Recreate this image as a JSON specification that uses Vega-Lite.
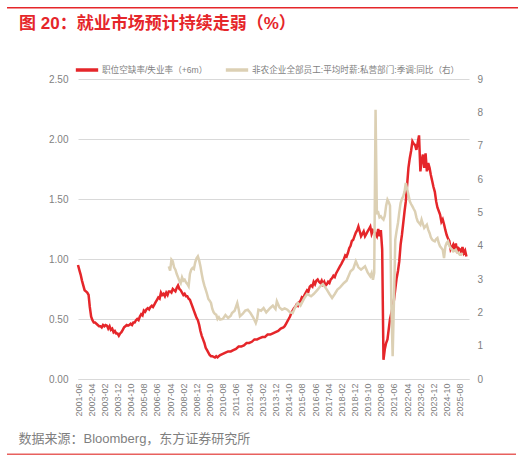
{
  "$schema": "https://vega.github.io/schema/vega-lite/v6.json",
  "padding": {"top": 0, "left": 6, "right": 5, "bottom": 2},
  "spacing": 6,
  "resolve": {"scale": {"color": "independent"}, "legend": {"color": "independent"}},
  "config": {
    "font": "Liberation Sans, Noto Sans CJK SC, sans-serif",
    "view": {"stroke": null},
    "axis": {"labelColor": "#7f7f7f", "ticks": false, "domain": false, "gridColor": "#d9d9d9", "labelFontSize": 10}
  },
  "datasets": {
    "band": [{"a": 0, "b": 1}],
    "vu": [
      {"d": "2001-06", "r": 0.95}, {"d": "2001-07", "r": 0.91}, {"d": "2001-08", "r": 0.87}, {"d": "2001-09", "r": 0.82},
      {"d": "2001-10", "r": 0.78}, {"d": "2001-11", "r": 0.74}, {"d": "2001-12", "r": 0.73}, {"d": "2002-01", "r": 0.72},
      {"d": "2002-02", "r": 0.70}, {"d": "2002-03", "r": 0.60}, {"d": "2002-04", "r": 0.52}, {"d": "2002-05", "r": 0.49},
      {"d": "2002-06", "r": 0.47}, {"d": "2002-07", "r": 0.47}, {"d": "2002-08", "r": 0.46}, {"d": "2002-09", "r": 0.45},
      {"d": "2002-10", "r": 0.44}, {"d": "2002-11", "r": 0.44}, {"d": "2002-12", "r": 0.43}, {"d": "2003-01", "r": 0.45},
      {"d": "2003-02", "r": 0.44}, {"d": "2003-03", "r": 0.45}, {"d": "2003-04", "r": 0.445}, {"d": "2003-05", "r": 0.42},
      {"d": "2003-06", "r": 0.44}, {"d": "2003-07", "r": 0.41}, {"d": "2003-08", "r": 0.42}, {"d": "2003-09", "r": 0.39},
      {"d": "2003-10", "r": 0.40}, {"d": "2003-11", "r": 0.38}, {"d": "2003-12", "r": 0.38}, {"d": "2004-01", "r": 0.36},
      {"d": "2004-02", "r": 0.38}, {"d": "2004-03", "r": 0.39}, {"d": "2004-04", "r": 0.41}, {"d": "2004-05", "r": 0.43},
      {"d": "2004-06", "r": 0.44}, {"d": "2004-07", "r": 0.45}, {"d": "2004-08", "r": 0.445}, {"d": "2004-09", "r": 0.45},
      {"d": "2004-10", "r": 0.46}, {"d": "2004-11", "r": 0.45}, {"d": "2004-12", "r": 0.47}, {"d": "2005-01", "r": 0.47},
      {"d": "2005-02", "r": 0.49}, {"d": "2005-03", "r": 0.50}, {"d": "2005-04", "r": 0.49}, {"d": "2005-05", "r": 0.52},
      {"d": "2005-06", "r": 0.54}, {"d": "2005-07", "r": 0.53}, {"d": "2005-08", "r": 0.57}, {"d": "2005-09", "r": 0.56},
      {"d": "2005-10", "r": 0.58}, {"d": "2005-11", "r": 0.59}, {"d": "2005-12", "r": 0.58}, {"d": "2006-01", "r": 0.60},
      {"d": "2006-02", "r": 0.61}, {"d": "2006-03", "r": 0.60}, {"d": "2006-04", "r": 0.62}, {"d": "2006-05", "r": 0.64},
      {"d": "2006-06", "r": 0.66}, {"d": "2006-07", "r": 0.68}, {"d": "2006-08", "r": 0.67}, {"d": "2006-09", "r": 0.72},
      {"d": "2006-10", "r": 0.70}, {"d": "2006-11", "r": 0.71}, {"d": "2006-12", "r": 0.69}, {"d": "2007-01", "r": 0.72},
      {"d": "2007-02", "r": 0.70}, {"d": "2007-03", "r": 0.73}, {"d": "2007-04", "r": 0.73}, {"d": "2007-05", "r": 0.72},
      {"d": "2007-06", "r": 0.75}, {"d": "2007-07", "r": 0.74}, {"d": "2007-08", "r": 0.73}, {"d": "2007-09", "r": 0.76},
      {"d": "2007-10", "r": 0.78}, {"d": "2007-11", "r": 0.75}, {"d": "2007-12", "r": 0.74}, {"d": "2008-01", "r": 0.72},
      {"d": "2008-02", "r": 0.70}, {"d": "2008-03", "r": 0.71}, {"d": "2008-04", "r": 0.69}, {"d": "2008-05", "r": 0.69},
      {"d": "2008-06", "r": 0.67}, {"d": "2008-07", "r": 0.66}, {"d": "2008-08", "r": 0.63}, {"d": "2008-09", "r": 0.60},
      {"d": "2008-10", "r": 0.57}, {"d": "2008-11", "r": 0.54}, {"d": "2008-12", "r": 0.51}, {"d": "2009-01", "r": 0.49},
      {"d": "2009-02", "r": 0.45}, {"d": "2009-03", "r": 0.40}, {"d": "2009-04", "r": 0.36}, {"d": "2009-05", "r": 0.33},
      {"d": "2009-06", "r": 0.30}, {"d": "2009-07", "r": 0.26}, {"d": "2009-08", "r": 0.24}, {"d": "2009-09", "r": 0.22},
      {"d": "2009-10", "r": 0.20}, {"d": "2009-11", "r": 0.19}, {"d": "2009-12", "r": 0.19}, {"d": "2010-01", "r": 0.185},
      {"d": "2010-02", "r": 0.18}, {"d": "2010-03", "r": 0.19}, {"d": "2010-04", "r": 0.18}, {"d": "2010-05", "r": 0.19},
      {"d": "2010-06", "r": 0.20}, {"d": "2010-08", "r": 0.21}, {"d": "2010-10", "r": 0.22}, {"d": "2010-12", "r": 0.23},
      {"d": "2011-02", "r": 0.23}, {"d": "2011-04", "r": 0.24}, {"d": "2011-06", "r": 0.25}, {"d": "2011-08", "r": 0.27},
      {"d": "2011-10", "r": 0.27}, {"d": "2011-12", "r": 0.28}, {"d": "2012-02", "r": 0.30}, {"d": "2012-04", "r": 0.30},
      {"d": "2012-06", "r": 0.31}, {"d": "2012-08", "r": 0.33}, {"d": "2012-10", "r": 0.33}, {"d": "2012-12", "r": 0.34},
      {"d": "2013-02", "r": 0.35}, {"d": "2013-04", "r": 0.35}, {"d": "2013-06", "r": 0.37}, {"d": "2013-08", "r": 0.37},
      {"d": "2013-10", "r": 0.38}, {"d": "2013-12", "r": 0.39}, {"d": "2014-02", "r": 0.40}, {"d": "2014-04", "r": 0.42},
      {"d": "2014-06", "r": 0.43}, {"d": "2014-07", "r": 0.44}, {"d": "2014-08", "r": 0.46}, {"d": "2014-09", "r": 0.48},
      {"d": "2014-10", "r": 0.50}, {"d": "2014-11", "r": 0.52}, {"d": "2014-12", "r": 0.55}, {"d": "2015-01", "r": 0.57},
      {"d": "2015-02", "r": 0.59}, {"d": "2015-03", "r": 0.60}, {"d": "2015-04", "r": 0.62}, {"d": "2015-05", "r": 0.61},
      {"d": "2015-06", "r": 0.64}, {"d": "2015-07", "r": 0.65}, {"d": "2015-08", "r": 0.68}, {"d": "2015-09", "r": 0.67},
      {"d": "2015-10", "r": 0.70}, {"d": "2015-11", "r": 0.72}, {"d": "2015-12", "r": 0.74}, {"d": "2016-01", "r": 0.73},
      {"d": "2016-02", "r": 0.77}, {"d": "2016-03", "r": 0.78}, {"d": "2016-04", "r": 0.77}, {"d": "2016-05", "r": 0.81},
      {"d": "2016-06", "r": 0.79}, {"d": "2016-07", "r": 0.82}, {"d": "2016-08", "r": 0.83}, {"d": "2016-09", "r": 0.81},
      {"d": "2016-10", "r": 0.80}, {"d": "2016-11", "r": 0.82}, {"d": "2016-12", "r": 0.79}, {"d": "2017-01", "r": 0.81},
      {"d": "2017-02", "r": 0.78}, {"d": "2017-03", "r": 0.79}, {"d": "2017-04", "r": 0.81}, {"d": "2017-05", "r": 0.80},
      {"d": "2017-06", "r": 0.83}, {"d": "2017-07", "r": 0.84}, {"d": "2017-08", "r": 0.86}, {"d": "2017-09", "r": 0.85},
      {"d": "2017-10", "r": 0.88}, {"d": "2017-11", "r": 0.90}, {"d": "2017-12", "r": 0.92}, {"d": "2018-01", "r": 0.94},
      {"d": "2018-02", "r": 0.96}, {"d": "2018-03", "r": 0.98}, {"d": "2018-04", "r": 1.00}, {"d": "2018-05", "r": 1.03},
      {"d": "2018-06", "r": 1.02}, {"d": "2018-07", "r": 1.05}, {"d": "2018-08", "r": 1.09}, {"d": "2018-09", "r": 1.11},
      {"d": "2018-10", "r": 1.15}, {"d": "2018-11", "r": 1.16}, {"d": "2018-12", "r": 1.19}, {"d": "2019-01", "r": 1.22},
      {"d": "2019-02", "r": 1.24}, {"d": "2019-03", "r": 1.27}, {"d": "2019-04", "r": 1.23}, {"d": "2019-05", "r": 1.19},
      {"d": "2019-06", "r": 1.21}, {"d": "2019-07", "r": 1.23}, {"d": "2019-08", "r": 1.19}, {"d": "2019-09", "r": 1.21},
      {"d": "2019-10", "r": 1.23}, {"d": "2019-11", "r": 1.25}, {"d": "2019-12", "r": 1.27}, {"d": "2020-01", "r": 1.21},
      {"d": "2020-02", "r": 1.24}, {"d": "2020-03", "r": 1.23}, {"d": "2020-04", "r": 1.21}, {"d": "2020-05", "r": 1.19},
      {"d": "2020-06", "r": 1.25}, {"d": "2020-07", "r": 1.19}, {"d": "2020-08", "r": 1.24}, {"d": "2020-09", "r": 1.08},
      {"d": "2020-10", "r": 0.16}, {"d": "2020-11", "r": 0.25}, {"d": "2020-12", "r": 0.30}, {"d": "2021-01", "r": 0.33},
      {"d": "2021-02", "r": 0.42}, {"d": "2021-03", "r": 0.50}, {"d": "2021-04", "r": 0.55}, {"d": "2021-05", "r": 0.60},
      {"d": "2021-06", "r": 0.66}, {"d": "2021-07", "r": 0.75}, {"d": "2021-08", "r": 0.84}, {"d": "2021-09", "r": 0.90},
      {"d": "2021-10", "r": 0.98}, {"d": "2021-11", "r": 1.12}, {"d": "2021-12", "r": 1.20}, {"d": "2022-01", "r": 1.30},
      {"d": "2022-02", "r": 1.40}, {"d": "2022-03", "r": 1.48}, {"d": "2022-04", "r": 1.62}, {"d": "2022-05", "r": 1.76},
      {"d": "2022-06", "r": 1.84}, {"d": "2022-07", "r": 1.90}, {"d": "2022-08", "r": 1.98}, {"d": "2022-09", "r": 1.96},
      {"d": "2022-10", "r": 1.95}, {"d": "2022-11", "r": 1.91}, {"d": "2022-12", "r": 1.97}, {"d": "2023-01", "r": 2.03},
      {"d": "2023-02", "r": 1.73}, {"d": "2023-03", "r": 1.82}, {"d": "2023-04", "r": 1.87}, {"d": "2023-05", "r": 1.76},
      {"d": "2023-06", "r": 1.88}, {"d": "2023-07", "r": 1.73}, {"d": "2023-08", "r": 1.80}, {"d": "2023-09", "r": 1.76},
      {"d": "2023-10", "r": 1.70}, {"d": "2023-11", "r": 1.65}, {"d": "2023-12", "r": 1.60}, {"d": "2024-01", "r": 1.56},
      {"d": "2024-02", "r": 1.48}, {"d": "2024-03", "r": 1.43}, {"d": "2024-04", "r": 1.40}, {"d": "2024-05", "r": 1.37},
      {"d": "2024-06", "r": 1.31}, {"d": "2024-07", "r": 1.33}, {"d": "2024-08", "r": 1.29}, {"d": "2024-09", "r": 1.24},
      {"d": "2024-10", "r": 1.20}, {"d": "2024-11", "r": 1.17}, {"d": "2024-12", "r": 1.15}, {"d": "2025-01", "r": 1.08},
      {"d": "2025-02", "r": 1.10}, {"d": "2025-03", "r": 1.12}, {"d": "2025-04", "r": 1.08}, {"d": "2025-05", "r": 1.13},
      {"d": "2025-06", "r": 1.05}, {"d": "2025-07", "r": 1.09}, {"d": "2025-08", "r": 1.08}, {"d": "2025-09", "r": 1.06},
      {"d": "2025-10", "r": 1.10}, {"d": "2025-11", "r": 1.05}, {"d": "2025-12", "r": 1.07}, {"d": "2026-01", "r": 1.02}
    ],
    "ahe": [
      {"d": "2007-03", "w": 3.38}, {"d": "2007-04", "w": 3.25}, {"d": "2007-05", "w": 3.58}, {"d": "2007-06", "w": 3.53},
      {"d": "2007-07", "w": 3.35}, {"d": "2007-08", "w": 3.28}, {"d": "2007-09", "w": 3.15}, {"d": "2007-10", "w": 3.05},
      {"d": "2007-11", "w": 2.95}, {"d": "2007-12", "w": 2.88}, {"d": "2008-01", "w": 3.05}, {"d": "2008-02", "w": 2.95},
      {"d": "2008-03", "w": 2.98}, {"d": "2008-04", "w": 2.90}, {"d": "2008-05", "w": 2.85}, {"d": "2008-06", "w": 2.78},
      {"d": "2008-07", "w": 3.15}, {"d": "2008-08", "w": 3.28}, {"d": "2008-09", "w": 3.33}, {"d": "2008-10", "w": 3.30},
      {"d": "2008-11", "w": 3.50}, {"d": "2008-12", "w": 3.62}, {"d": "2009-01", "w": 3.68}, {"d": "2009-02", "w": 3.55},
      {"d": "2009-03", "w": 3.38}, {"d": "2009-04", "w": 3.15}, {"d": "2009-05", "w": 2.95}, {"d": "2009-06", "w": 2.80},
      {"d": "2009-07", "w": 2.68}, {"d": "2009-08", "w": 2.55}, {"d": "2009-09", "w": 2.40}, {"d": "2009-10", "w": 2.35},
      {"d": "2009-11", "w": 2.28}, {"d": "2009-12", "w": 2.10}, {"d": "2010-01", "w": 2.00}, {"d": "2010-02", "w": 1.95},
      {"d": "2010-03", "w": 1.93}, {"d": "2010-04", "w": 1.80}, {"d": "2010-05", "w": 1.85}, {"d": "2010-06", "w": 1.78},
      {"d": "2010-08", "w": 1.80}, {"d": "2010-10", "w": 1.92}, {"d": "2010-12", "w": 1.83}, {"d": "2011-02", "w": 1.90},
      {"d": "2011-03", "w": 1.98}, {"d": "2011-05", "w": 2.05}, {"d": "2011-07", "w": 2.28}, {"d": "2011-08", "w": 2.10},
      {"d": "2011-09", "w": 1.88}, {"d": "2011-11", "w": 1.95}, {"d": "2012-01", "w": 2.05}, {"d": "2012-03", "w": 2.08},
      {"d": "2012-05", "w": 1.98}, {"d": "2012-07", "w": 1.85}, {"d": "2012-09", "w": 1.68}, {"d": "2012-10", "w": 1.80},
      {"d": "2012-11", "w": 2.08}, {"d": "2013-01", "w": 2.05}, {"d": "2013-03", "w": 2.13}, {"d": "2013-05", "w": 2.00},
      {"d": "2013-08", "w": 2.13}, {"d": "2013-10", "w": 2.20}, {"d": "2013-12", "w": 2.10}, {"d": "2014-01", "w": 2.33},
      {"d": "2014-03", "w": 2.15}, {"d": "2014-05", "w": 2.08}, {"d": "2014-07", "w": 2.12}, {"d": "2014-09", "w": 2.08},
      {"d": "2014-11", "w": 2.00}, {"d": "2015-01", "w": 1.98}, {"d": "2015-03", "w": 2.15}, {"d": "2015-05", "w": 2.28},
      {"d": "2015-07", "w": 2.20}, {"d": "2015-10", "w": 2.43}, {"d": "2015-12", "w": 2.55}, {"d": "2016-03", "w": 2.48},
      {"d": "2016-05", "w": 2.55}, {"d": "2016-08", "w": 2.68}, {"d": "2016-10", "w": 2.78}, {"d": "2016-12", "w": 2.85},
      {"d": "2017-03", "w": 2.68}, {"d": "2017-05", "w": 2.55}, {"d": "2017-07", "w": 2.43}, {"d": "2017-09", "w": 2.55},
      {"d": "2017-11", "w": 2.68}, {"d": "2018-01", "w": 2.75}, {"d": "2018-04", "w": 2.88}, {"d": "2018-06", "w": 2.95},
      {"d": "2018-09", "w": 3.23}, {"d": "2018-11", "w": 3.30}, {"d": "2019-01", "w": 3.53}, {"d": "2019-03", "w": 3.35},
      {"d": "2019-05", "w": 3.28}, {"d": "2019-08", "w": 3.38}, {"d": "2019-10", "w": 3.20}, {"d": "2019-12", "w": 3.08},
      {"d": "2020-01", "w": 3.18}, {"d": "2020-02", "w": 2.98}, {"d": "2020-03", "w": 3.18}, {"d": "2020-04", "w": 8.08},
      {"d": "2020-05", "w": 4.98}, {"d": "2020-06", "w": 5.00}, {"d": "2020-07", "w": 4.85}, {"d": "2020-08", "w": 4.88},
      {"d": "2020-09", "w": 4.82}, {"d": "2020-10", "w": 4.78}, {"d": "2020-11", "w": 4.90}, {"d": "2020-12", "w": 5.20},
      {"d": "2021-01", "w": 5.38}, {"d": "2021-02", "w": 5.30}, {"d": "2021-03", "w": 5.20}, {"d": "2021-04", "w": 2.20},
      {"d": "2021-05", "w": 0.68}, {"d": "2021-06", "w": 2.38}, {"d": "2021-07", "w": 4.18}, {"d": "2021-08", "w": 4.45},
      {"d": "2021-09", "w": 4.68}, {"d": "2021-10", "w": 5.00}, {"d": "2021-11", "w": 5.28}, {"d": "2021-12", "w": 5.40},
      {"d": "2022-01", "w": 5.48}, {"d": "2022-02", "w": 5.63}, {"d": "2022-03", "w": 5.88}, {"d": "2022-04", "w": 5.70},
      {"d": "2022-05", "w": 5.53}, {"d": "2022-06", "w": 5.33}, {"d": "2022-07", "w": 5.25}, {"d": "2022-08", "w": 5.18},
      {"d": "2022-09", "w": 5.10}, {"d": "2022-10", "w": 5.03}, {"d": "2022-11", "w": 4.85}, {"d": "2022-12", "w": 4.73},
      {"d": "2023-01", "w": 4.68}, {"d": "2023-02", "w": 4.63}, {"d": "2023-03", "w": 4.78}, {"d": "2023-04", "w": 4.65},
      {"d": "2023-05", "w": 4.53}, {"d": "2023-06", "w": 4.58}, {"d": "2023-07", "w": 4.63}, {"d": "2023-08", "w": 4.48},
      {"d": "2023-09", "w": 4.38}, {"d": "2023-10", "w": 4.25}, {"d": "2023-11", "w": 4.18}, {"d": "2023-12", "w": 4.15},
      {"d": "2024-01", "w": 4.13}, {"d": "2024-02", "w": 4.20}, {"d": "2024-03", "w": 4.23}, {"d": "2024-04", "w": 4.08},
      {"d": "2024-05", "w": 3.98}, {"d": "2024-06", "w": 3.93}, {"d": "2024-07", "w": 3.88}, {"d": "2024-08", "w": 3.63},
      {"d": "2024-09", "w": 3.98}, {"d": "2024-10", "w": 4.08}, {"d": "2024-11", "w": 4.13}, {"d": "2024-12", "w": 4.00},
      {"d": "2025-01", "w": 3.93}, {"d": "2025-02", "w": 3.88}, {"d": "2025-03", "w": 3.83}, {"d": "2025-04", "w": 3.85},
      {"d": "2025-05", "w": 3.88}, {"d": "2025-06", "w": 3.80}, {"d": "2025-07", "w": 3.78}, {"d": "2025-08", "w": 3.73},
      {"d": "2025-09", "w": 3.73}, {"d": "2025-10", "w": 3.78}
    ]
  },
  "vconcat": [
    {
      "width": 1,
      "height": 0.001,
      "data": {"name": "band"},
      "mark": {"type": "rect", "opacity": 0},
      "encoding": {
        "x": {"field": "a", "type": "quantitative", "axis": null, "scale": {"domain": [0, 1], "nice": false}},
        "x2": {"field": "b"},
        "y": {"field": "a", "type": "quantitative", "axis": null, "scale": {"domain": [0, 1], "nice": false}},
        "y2": {"field": "b"}
      }
    },
    {
      "width": 440,
      "height": 1.5,
      "data": {"name": "band"},
      "mark": {"type": "rect", "color": "#e5262a", "clip": false},
      "encoding": {
        "x": {"field": "a", "type": "quantitative", "axis": null, "scale": {"domain": [0.1389, 1], "nice": false, "zero": false}},
        "x2": {"field": "b"},
        "y": {"field": "a", "type": "quantitative", "axis": null, "scale": {"domain": [0, 1], "nice": false}},
        "y2": {"field": "b"}
      }
    },
    {
      "width": 391,
      "height": 300,
      "title": {
        "text": "图 20：就业市场预计持续走弱（%）",
        "anchor": "start",
        "frame": "group",
        "dx": -59,
        "offset": 24,
        "fontSize": 17,
        "fontWeight": "bold",
        "color": "#e5262a"
      },
      "encoding": {
        "x": {
          "field": "d",
          "type": "temporal",
          "scale": {
            "type": "utc",
            "domain": [
              {"year": 2001, "month": 6, "date": 1, "utc": true},
              {"year": 2026, "month": 3, "date": 1, "utc": true}
            ]
          },
          "axis": {
            "values": [
              {"year": 2001, "month": 6, "utc": true}, {"year": 2002, "month": 4, "utc": true},
              {"year": 2003, "month": 2, "utc": true}, {"year": 2003, "month": 12, "utc": true},
              {"year": 2004, "month": 10, "utc": true}, {"year": 2005, "month": 8, "utc": true},
              {"year": 2006, "month": 6, "utc": true}, {"year": 2007, "month": 4, "utc": true},
              {"year": 2008, "month": 2, "utc": true}, {"year": 2008, "month": 12, "utc": true},
              {"year": 2009, "month": 10, "utc": true}, {"year": 2010, "month": 8, "utc": true},
              {"year": 2011, "month": 6, "utc": true}, {"year": 2012, "month": 4, "utc": true},
              {"year": 2013, "month": 2, "utc": true}, {"year": 2013, "month": 12, "utc": true},
              {"year": 2014, "month": 10, "utc": true}, {"year": 2015, "month": 8, "utc": true},
              {"year": 2016, "month": 6, "utc": true}, {"year": 2017, "month": 4, "utc": true},
              {"year": 2018, "month": 2, "utc": true}, {"year": 2018, "month": 12, "utc": true},
              {"year": 2019, "month": 10, "utc": true}, {"year": 2020, "month": 8, "utc": true},
              {"year": 2021, "month": 6, "utc": true}, {"year": 2022, "month": 4, "utc": true},
              {"year": 2023, "month": 2, "utc": true}, {"year": 2023, "month": 12, "utc": true},
              {"year": 2024, "month": 10, "utc": true}, {"year": 2025, "month": 8, "utc": true}
            ],
            "labelExpr": "utcFormat(datum.value, '%Y-%m')",
            "labelAngle": -90,
            "labelFontSize": 9,
            "labelPadding": 4,
            "labelOverlap": false,
            "labelBound": false,
            "labelFlush": false,
            "grid": false,
            "domain": true,
            "domainColor": "#d9d9d9",
            "title": "数据来源：Bloomberg，东方证券研究所",
            "titleX": -60,
            "titleY": 59,
            "titleAlign": "left",
            "titleBaseline": "middle",
            "titleFontSize": 13,
            "titleFontWeight": "normal",
            "titleColor": "#7f7f7f"
          }
        }
      },
      "layer": [
        {
          "data": {"name": "vu"},
          "mark": {"type": "line", "strokeWidth": 2.5},
          "encoding": {
            "y": {
              "field": "r",
              "type": "quantitative",
              "scale": {"domain": [0, 2.5], "nice": false},
              "axis": {"orient": "left", "values": [0, 0.5, 1, 1.5, 2, 2.5], "format": ".2f", "grid": true, "title": null, "labelPadding": 10}
            },
            "color": {
              "datum": "职位空缺率/失业率（+6m）",
              "scale": {
                "domain": ["职位空缺率/失业率（+6m）", "非农企业全部员工:平均时薪:私营部门:季调:同比（右）"],
                "range": ["#e5262a", "#dcd0b4"]
              },
              "legend": {
                "orient": "none",
                "legendX": -4,
                "legendY": -22,
                "direction": "horizontal",
                "title": null,
                "symbolType": "stroke",
                "symbolSize": 500,
                "symbolStrokeWidth": 3.5,
                "labelFontSize": 8.6,
                "labelColor": "#7f7f7f",
                "labelLimit": 400,
                "labelOffset": 2,
                "columnPadding": 10
              }
            }
          }
        },
        {
          "data": {"name": "ahe"},
          "mark": {"type": "line", "strokeWidth": 2.5},
          "encoding": {
            "y": {
              "field": "w",
              "type": "quantitative",
              "scale": {"domain": [0, 9], "nice": false},
              "axis": {"orient": "right", "values": [0, 1, 2, 3, 4, 5, 6, 7, 8, 9], "format": "d", "grid": false, "title": null, "labelPadding": 8}
            },
            "color": {"datum": "非农企业全部员工:平均时薪:私营部门:季调:同比（右）"}
          }
        }
      ],
      "resolve": {"scale": {"y": "independent"}}
    },
    {
      "width": 438,
      "height": 4,
      "data": {"name": "band"},
      "mark": {"type": "rect", "color": "#e8615e", "clip": false},
      "encoding": {
        "x": {"field": "a", "type": "quantitative", "axis": null, "scale": {"domain": [0.1395, 1], "nice": false, "zero": false}},
        "x2": {"field": "b"},
        "y": {"field": "a", "type": "quantitative", "axis": null, "scale": {"domain": [0, 2.6], "nice": false}},
        "y2": {"field": "b"}
      }
    }
  ]
}
